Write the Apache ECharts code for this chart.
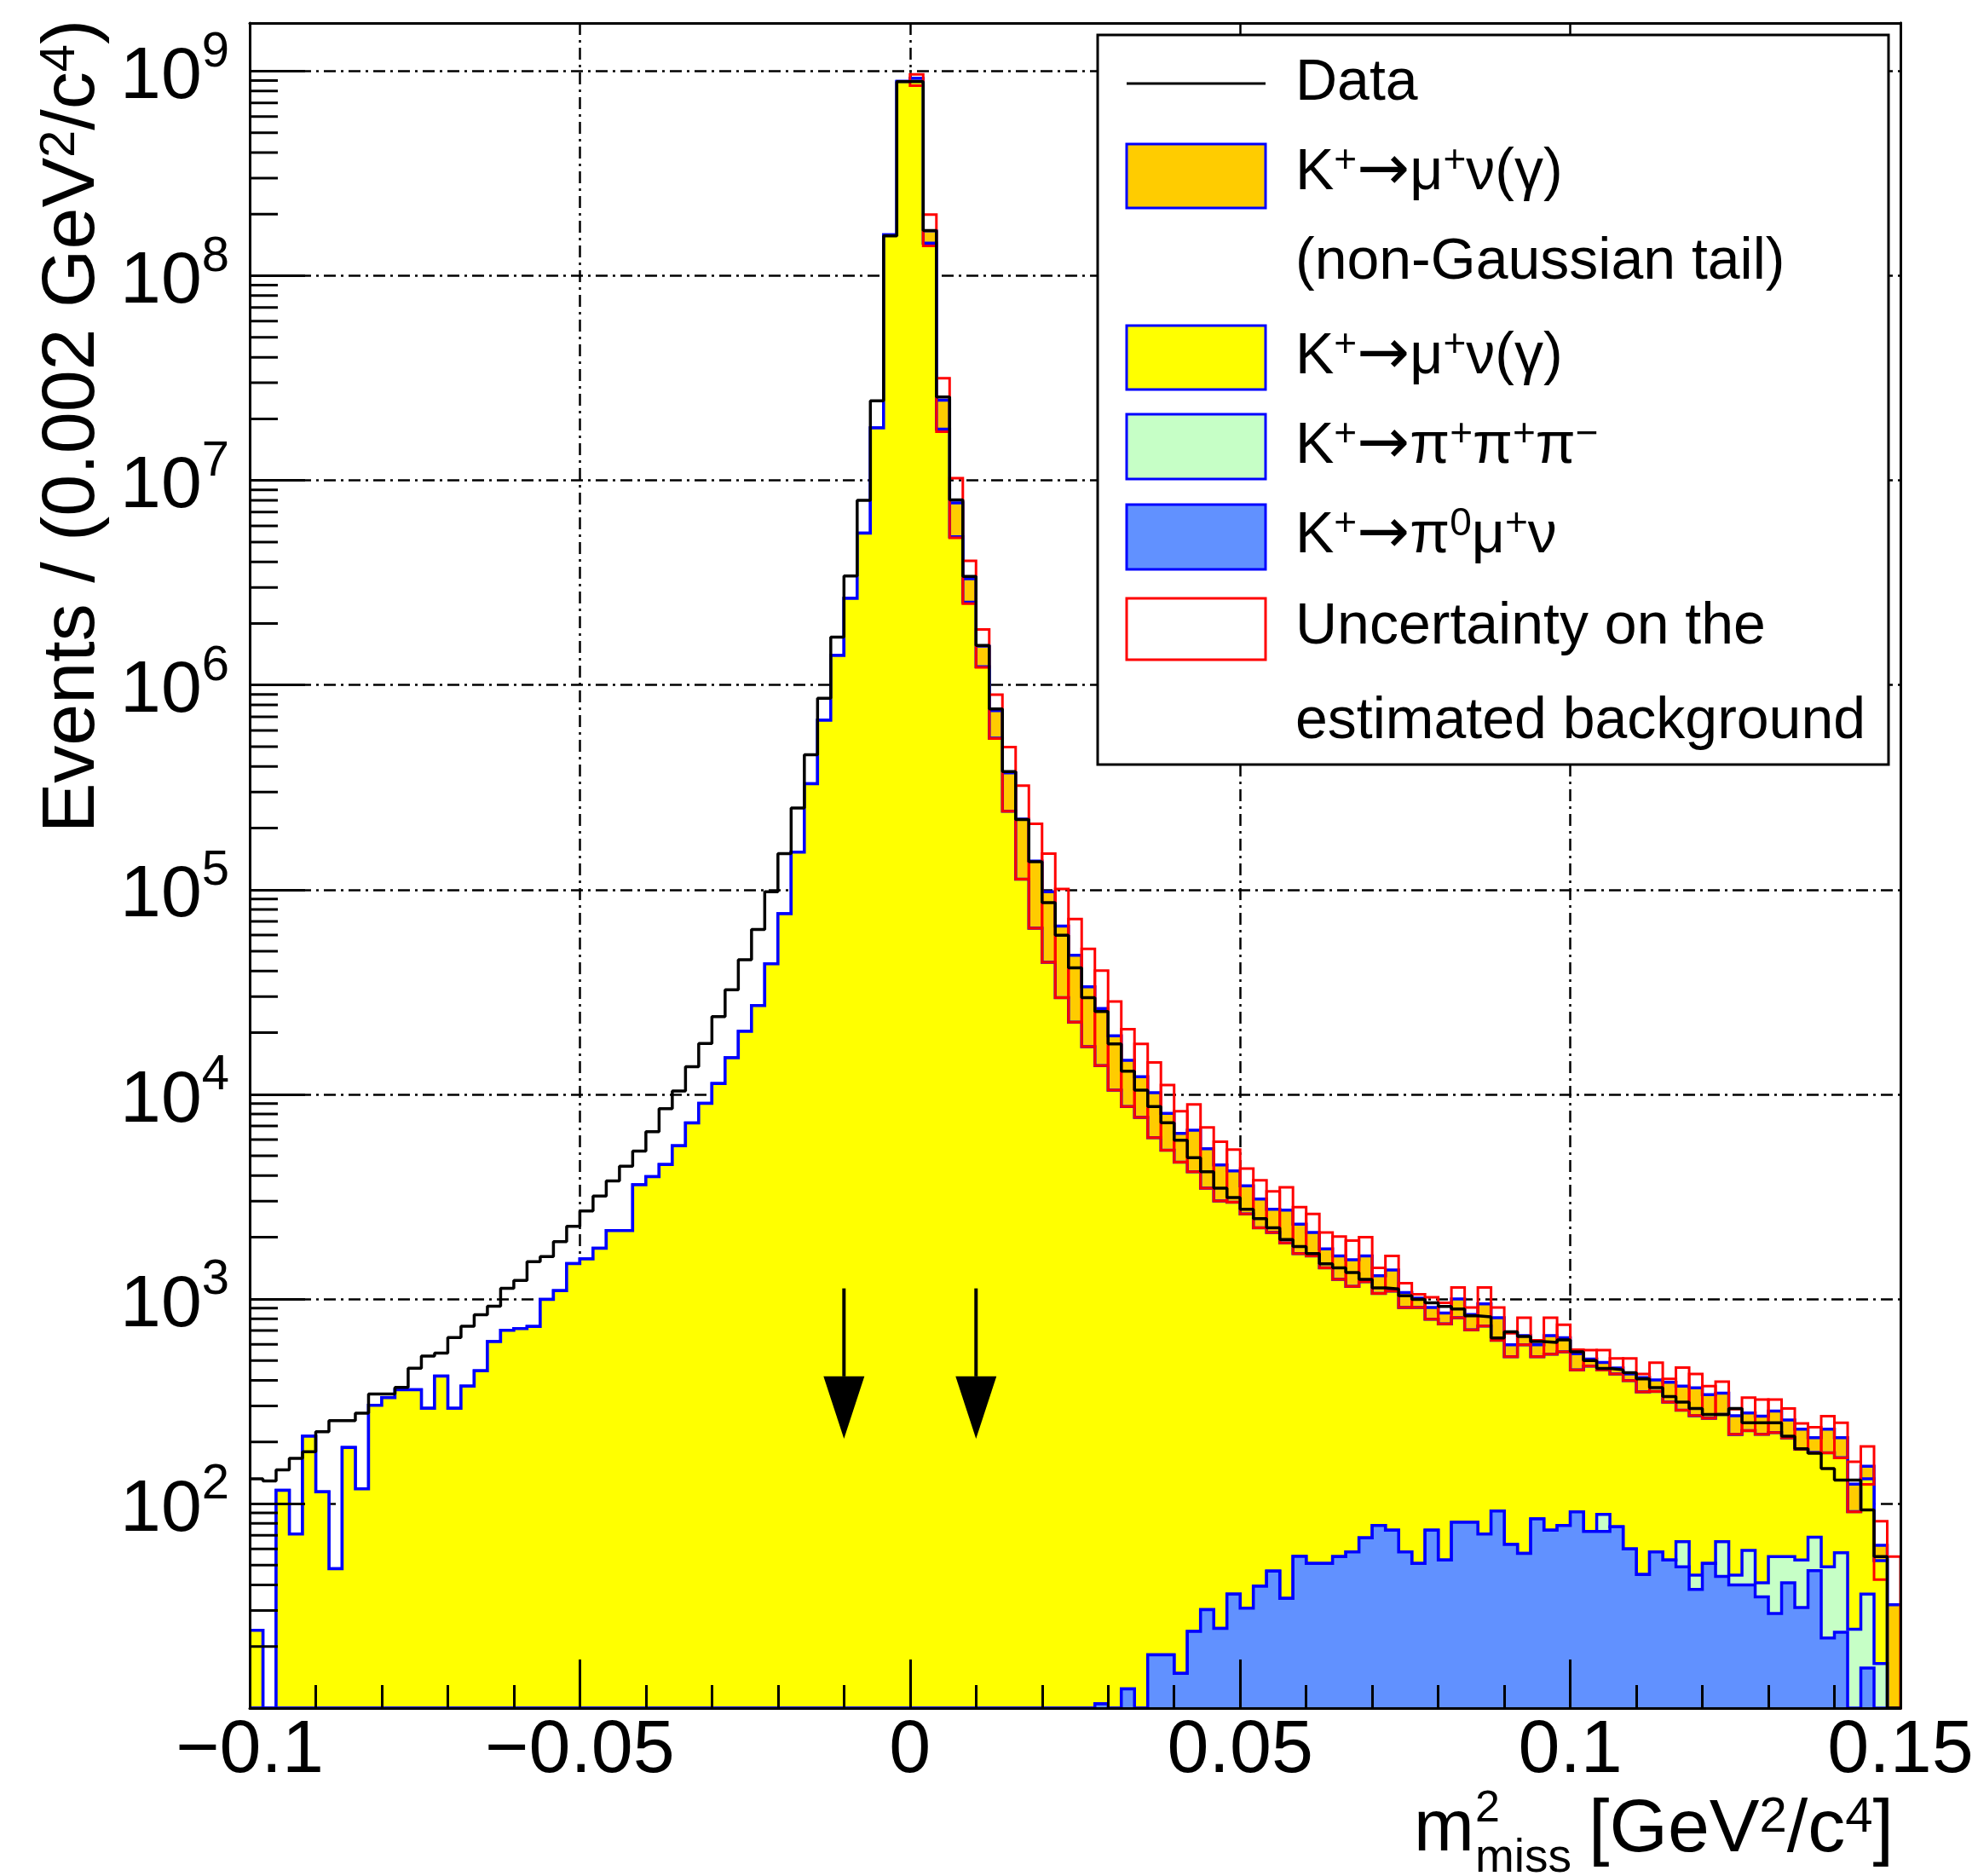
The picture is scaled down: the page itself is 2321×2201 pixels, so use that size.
<!DOCTYPE html>
<html><head><meta charset="utf-8"><title>Missing mass squared</title>
<script src="https://cdn.jsdelivr.net/npm/echarts@6.0.0/dist/echarts.min.js"></script>
<style>html,body{margin:0;padding:0;background:#fff;}#chart{width:2321px;height:2201px;}</style>
</head><body><div id="chart"></div>
<script>
// ---------------- binning / axis ranges ----------------
const X_MIN = -0.1, X_MAX = 0.15, BIN_WIDTH = 0.002, N_BINS = 125;
const Y_MIN = 10, Y_MAX = 1.72e9;

// ---------------- data (events per 0.002 GeV^2/c^4 bin, bins from -0.1 to 0.15) ----------------
const dataCounts = [
  132, 129, 146, 166, 179, 224, 254, 254, 276, 343,
  343, 369, 458, 525, 543, 647, 735, 836, 920, 1125,
  1230, 1520, 1610, 1905, 2265, 2690, 3180, 3775, 4445, 5270,
  6560, 8510, 10380, 13650, 17700, 23930, 32430, 45390, 63830, 97720,
  150000, 250600, 456000, 861000, 1714000, 3410000, 8000000, 24500000, 156700000, 889000000,
  889000000, 166300000, 25600000, 8040000, 3400000, 1563000, 764000, 378000, 220000, 136800,
  86500, 59800, 41500, 29650, 25400, 17620, 12970, 10470, 8710, 7260,
  5960, 4900, 4180, 3475, 3126, 2742, 2466, 2223, 1950, 1800,
  1663, 1483, 1419, 1346, 1245, 1132, 1119, 1035, 993, 957,
  918, 893, 826, 817, 644, 690, 655, 618, 612, 630,
  551, 500, 457, 450, 436, 406, 368, 333, 313, 291,
  272, 272, 291, 248, 248, 248, 213, 185, 176, 148,
  130, 130, 93, 55, 0
];
// K+ -> pi0 mu+ nu (bottom of stack)
const kmu3 = [
  0, 0, 0, 0, 0, 0, 0, 0, 0, 0,
  0, 0, 0, 0, 0, 0, 0, 0, 0, 0,
  0, 0, 0, 0, 0, 0, 0, 0, 0, 0,
  0, 0, 0, 0, 0, 0, 0, 0, 0, 0,
  0, 0, 0, 0, 0, 0, 0, 0, 0, 0,
  0, 0, 0, 0, 0, 0, 0, 0, 0, 0,
  0, 0, 0, 0, 10.5, 0, 12.4, 0, 18.2, 18.2,
  14.8, 23.7, 30.3, 24.5, 36.1, 30.8, 39.4, 46.7, 34.4, 55.1,
  51, 51, 55, 58, 68, 78, 74, 58, 51, 74,
  53, 81, 81, 71, 92, 63, 57, 84, 74, 78,
  91, 73, 73, 77, 60, 45, 58, 53, 49, 38,
  51, 44, 40, 40, 35, 29, 41, 31, 47, 22,
  23.5, 0, 15.7, 0, 0
];
// K+ -> pi+ pi+ pi-
const k3pi = [
  0, 0, 0, 0, 0, 0, 0, 0, 0, 0,
  0, 0, 0, 0, 0, 0, 0, 0, 0, 0,
  0, 0, 0, 0, 0, 0, 0, 0, 0, 0,
  0, 0, 0, 0, 0, 0, 0, 0, 0, 0,
  0, 0, 0, 0, 0, 0, 0, 0, 0, 0,
  0, 0, 0, 0, 0, 0, 0, 0, 0, 0,
  0, 0, 0, 0, 0, 0, 0, 0, 0, 0,
  0, 0, 0, 0, 0, 0, 0, 0, 0, 0,
  0, 0, 0, 0, 0, 0, 0, 0, 0, 0,
  0, 0, 0, 0, 0, 0, 0, 0, 0, 0,
  0, 0, 15.5, 0, 0, 0, 0, 0, 16, 6.6,
  0, 21, 4.6, 19, 6, 26, 14, 22, 21.5, 27,
  34, 24.3, 20.4, 16.5, 0
];
// K+ -> mu+ nu(gamma), Gaussian core
const kmu2 = [
  24, 0, 116, 71, 213, 114, 48, 188, 118, 302,
  329, 360, 360, 292, 419, 292, 375, 445, 619, 702,
  716, 734, 993, 1096, 1486, 1567, 1766, 2158, 2158, 3614,
  3954, 4539, 5598, 7244, 9036, 11270, 15070, 20320, 27160, 43450,
  76210, 152400, 329600, 673000, 1396000, 2650000, 5530000, 18070000, 158500000, 891000000,
  923000000, 144500000, 17800000, 5310000, 2540000, 1230000, 550000, 242000, 112500, 64860,
  44160, 29650, 22490, 17100, 13790, 10470, 8698, 7710, 6122, 5302,
  4645, 4156, 3445, 2988, 2929, 2569, 2184, 2062, 1841, 1608,
  1571, 1368, 1190, 1093, 1145, 986, 1017, 850, 857, 722,
  702, 728, 624, 665, 536, 459, 539, 438, 463, 473,
  359, 396, 362, 352, 339, 306, 295, 260, 221, 224,
  210, 207, 173, 168, 177, 167, 154, 131, 109, 128,
  110, 67, 96, 36, 0
];
// K+ -> mu+ nu(gamma), non-Gaussian tail (top of stack)
const kmu2Tail = [
  0, 0, 0, 0, 0, 0, 0, 0, 0, 0,
  0, 0, 0, 0, 0, 0, 0, 0, 0, 0,
  0, 0, 0, 0, 0, 0, 0, 0, 0, 0,
  0, 0, 0, 0, 0, 0, 0, 0, 0, 0,
  0, 0, 0, 0, 0, 0, 0, 0, 0, 0,
  0, 21500000, 6900000, 2450000, 770000, 320000, 200000, 130000, 108500, 73140,
  53540, 36750, 25260, 16400, 12440, 8850, 5950, 4480, 4040, 2750,
  1770, 2490, 1945, 1507, 1255, 965, 853, 633, 841, 654,
  487, 335, 377, 401, 409, 233, 293, 166, 101, 112,
  98, 189, 134, 210, 181, 74, 66, 74, 125, 95,
  90, 39, 38, 30, 30, 61, 49, 78, 89, 99,
  79, 74, 51, 50, 49, 61, 47, 47, 32, 54,
  42, 33, 20, 10, 32
];
// uncertainty band on the estimated background (upper / lower edge)
const uncUp = [
  null, null, null, null, null, null, null, null, null, null,
  null, null, null, null, null, null, null, null, null, null,
  null, null, null, null, null, null, null, null, null, null,
  null, null, null, null, null, null, null, null, null, null,
  null, null, null, null, null, null, null, null, null, null,
  966000000, 199000000, 31600000, 10260000, 4050000, 1870000, 897000, 497000, 322000, 210000,
  150000, 100700, 71900, 51400, 40180, 28380, 20800, 17620, 14290, 11090,
  8260, 8910, 6890, 5860, 5360, 4335, 3800, 3350, 3510, 2810,
  2600, 2110, 2018, 1928, 2000, 1419, 1622, 1194, 1052, 1019,
  957, 1138, 908, 1138, 908, 679, 809, 628, 809, 748,
  564, 562, 562, 512, 512, 429, 488, 406, 462, 429,
  375, 394, 289, 329, 322, 322, 291, 246, 236, 267,
  248, 160, 190, 82, 55
];
const uncLow = [
  null, null, null, null, null, null, null, null, null, null,
  null, null, null, null, null, null, null, null, null, null,
  null, null, null, null, null, null, null, null, null, null,
  null, null, null, null, null, null, null, null, null, null,
  null, null, null, null, null, null, null, null, null, null,
  850000000, 140000000, 17300000, 5240000, 2500000, 1220000, 548000, 242000, 112500, 64860,
  44160, 29650, 22490, 17100, 13800, 10470, 8710, 7710, 6140, 5320,
  4660, 4180, 3475, 3013, 2965, 2600, 2223, 2109, 1875, 1663,
  1622, 1419, 1245, 1151, 1213, 1064, 1091, 908, 908, 796,
  755, 809, 705, 736, 628, 522, 596, 522, 537, 551,
  450, 469, 450, 429, 399, 351, 353, 313, 286, 269,
  261, 272, 218, 227, 218, 222, 209, 184, 177, 177,
  167, 91, 124, 42.5, 0
];
// signal-region arrows
const arrowX = [-0.01, 0.01];
const arrowTop = [1125, 1125];
const arrowHeadBase = [418, 418];
const arrowTip = [207, 207];

// ---------------- derived geometry ----------------
const FONT = 'Liberation Sans';
const edges = [];
for (let i = 0; i <= N_BINS; i++) edges.push(+(X_MIN + i * BIN_WIDTH).toFixed(4));
function cumulative(layers) { return layers[0].map((_, i) => layers.reduce((s, l) => s + l[i], 0)); }
const cumBlue = cumulative([kmu3]);
const cumGreen = cumulative([kmu3, k3pi]);
const cumYellow = cumulative([kmu3, k3pi, kmu2]);
const cumOrange = cumulative([kmu3, k3pi, kmu2, kmu2Tail]);
const clampY = v => Math.min(Math.max(v, Y_MIN), Y_MAX);

function stepLayer(name, cum, color, z) {
  return {
    name: name, type: 'custom', z: z, silent: true,
    data: [[X_MIN, Y_MIN]],
    renderItem: function (params, api) {
      const top = [];
      for (let i = 0; i < N_BINS; i++) {
        const v = clampY(cum[i]);
        top.push(api.coord([edges[i], v]), api.coord([edges[i + 1], v]));
      }
      const poly = [api.coord([X_MIN, Y_MIN])].concat(top, [api.coord([X_MAX, Y_MIN])]);
      return { type: 'group', children: [
        { type: 'polygon', shape: { points: poly }, style: { fill: color, stroke: 'none' } },
        { type: 'polyline', shape: { points: top }, style: { fill: 'none', stroke: '#0000ff', lineWidth: 3.5 } }
      ] };
    }
  };
}

const uncData = [];
for (let i = 0; i < N_BINS; i++) {
  if (uncUp[i] != null) uncData.push([edges[i], edges[i + 1], clampY(uncLow[i]), clampY(uncUp[i])]);
}
const dataLine = [];
for (let i = 0; i < N_BINS; i++) dataLine.push([edges[i], clampY(dataCounts[i])]);
dataLine.push([X_MAX, clampY(dataCounts[N_BINS - 1])]);

const yMinorTicks = [];
for (let e = 1; e <= 9; e++) for (let k = 2; k <= 9; k++) {
  const v = k * Math.pow(10, e);
  if (v < Y_MAX) yMinorTicks.push([X_MIN, v]);
}

function fmtX(v) {
  const r = Math.round(v * 1000) / 1000;
  if (r === 0) return '0';
  return (r < 0 ? '\u2212' : '') + String(Math.abs(r));
}
function fmtY(v) {
  const e = Math.log10(v), r = Math.round(e);
  if (Math.abs(e - r) > 0.01 || r < 2) return '';
  return '{b|10}{s|' + r + '}';
}
const gridLine = { color: '#000', width: 2.5, type: [14, 6, 3, 6] };
const frame = { color: '#000', width: 3 };
const supStyle = fs => ({ fontSize: fs, fontFamily: FONT, fill: '#000', verticalAlign: 'top' });

function legendText(y, text) {
  return { type: 'text', x: 1520, y: y, z: 102, style: {
    text: text, fontSize: 68, fontFamily: FONT, fill: '#000', align: 'left', verticalAlign: 'middle',
    rich: { s: supStyle(46), a: { fontSize: 74, fontFamily: 'DejaVu Sans', fill: '#000' } } } };
}
function legendBox(y, h, fill, stroke) {
  return { type: 'rect', z: 101, shape: { x: 1322, y: y, width: 163, height: h },
    style: { fill: fill, stroke: stroke, lineWidth: 3 } };
}

const option = {
  animation: false,
  backgroundColor: '#ffffff',
  grid: { left: 293, right: 91, top: 27, bottom: 197, containLabel: false },
  xAxis: [
    { type: 'value', min: X_MIN, max: X_MAX, interval: 0.05, position: 'bottom', z: 10,
      axisLine: { show: true, onZero: false, lineStyle: frame },
      axisTick: { show: true, inside: true, length: 57, lineStyle: { color: '#000', width: 3 } },
      minorTick: { show: true, splitNumber: 5, length: 27, lineStyle: { color: '#000', width: 3 } },
      splitLine: { show: false }, minorSplitLine: { show: false },
      axisLabel: { show: true, margin: 7, fontSize: 88, fontFamily: FONT, color: '#000',
        showMinLabel: true, showMaxLabel: true, formatter: fmtX } },
    { type: 'value', min: X_MIN, max: X_MAX, interval: 0.05, position: 'top', z: 0,
      axisLine: { show: true, onZero: false, lineStyle: frame },
      axisTick: { show: false }, axisLabel: { show: false },
      splitLine: { show: true, lineStyle: gridLine } }
  ],
  yAxis: [
    { type: 'log', logBase: 10, min: Y_MIN, max: Y_MAX, splitNumber: 8, position: 'left', z: 10,
      axisLine: { show: true, onZero: false, lineStyle: frame },
      axisTick: { show: true, inside: true, length: 65, lineStyle: { color: '#000', width: 3 } },
      splitLine: { show: false },
      axisLabel: { show: true, margin: 24, formatter: fmtY, color: '#000',
        rich: { b: { fontSize: 86, fontFamily: FONT, color: '#000', padding: [16, 0, 0, 0] },
                s: { fontSize: 58, fontFamily: FONT, color: '#000', verticalAlign: 'top' } } } },
    { type: 'log', logBase: 10, min: Y_MIN, max: Y_MAX, splitNumber: 8, position: 'right', z: 0,
      axisLine: { show: true, onZero: false, lineStyle: frame },
      axisTick: { show: false }, axisLabel: { show: false },
      splitLine: { show: true, lineStyle: gridLine } },
    { type: 'log', logBase: 10, min: Y_MIN, max: Y_MAX, splitNumber: 8, position: 'right', z: 10,
      axisLine: { show: true, onZero: false, lineStyle: frame },
      axisTick: { show: false }, axisLabel: { show: false }, splitLine: { show: false } }
  ],
  series: [
    stepLayer('K+→μ+ν(γ) non-Gaussian tail', cumOrange, '#ffcc00', 2),
    stepLayer('K+→μ+ν(γ)', cumYellow, '#ffff00', 2),
    stepLayer('K+→π+π+π−', cumGreen, '#c6ffc6', 2),
    stepLayer('K+→π0μ+ν', cumBlue, '#6191ff', 2),
    { name: 'Uncertainty', type: 'custom', z: 3, silent: true, data: uncData,
      encode: { x: [0, 1], y: [2, 3] },
      renderItem: function (params, api) {
        const a = api.coord([api.value(0), api.value(2)]);
        const b = api.coord([api.value(1), api.value(3)]);
        return { type: 'rect', shape: { x: a[0], y: b[1], width: b[0] - a[0], height: a[1] - b[1] },
          style: { fill: 'none', stroke: '#ff0000', lineWidth: 3 } };
      } },
    { name: 'Data', type: 'line', step: 'end', data: dataLine, symbol: 'none', showSymbol: false,
      lineStyle: { color: '#000', width: 3.5 }, z: 4, silent: true, clip: true },
    { name: 'Arrows', type: 'custom', z: 5, silent: true,
      data: arrowX.map((x, i) => [x, arrowTop[i], arrowHeadBase[i], arrowTip[i]]),
      encode: { x: 0, y: [1, 2, 3] },
      renderItem: function (params, api) {
        const x = api.value(0);
        const p0 = api.coord([x, api.value(1)]);
        const p1 = api.coord([x, api.value(2)]);
        const p2 = api.coord([x, api.value(3)]);
        return { type: 'group', children: [
          { type: 'line', shape: { x1: p0[0], y1: p0[1], x2: p1[0], y2: p1[1] }, style: { stroke: '#000', lineWidth: 4 } },
          { type: 'polygon', shape: { points: [[p1[0] - 24, p1[1]], [p1[0] + 24, p1[1]], [p2[0], p2[1]]] }, style: { fill: '#000' } }
        ] };
      } },
    { name: 'yMinorTicks', type: 'custom', z: 10, silent: true, data: yMinorTicks,
      encode: { x: 0, y: 1 },
      renderItem: function (params, api) {
        const q = api.coord([api.value(0), api.value(1)]);
        return { type: 'line', shape: { x1: q[0], y1: q[1], x2: q[0] + 33, y2: q[1] },
          style: { stroke: '#000', lineWidth: 3 } };
      } }
  ],
  graphic: [
    { type: 'text', x: 86, y: 500, rotation: Math.PI / 2, z: 100, style: {
        text: 'Events / (0.002 GeV{s|2}/c{s|4})', fontSize: 88, fontFamily: FONT, fill: '#000',
        align: 'center', verticalAlign: 'middle', rich: { s: supStyle(58) } } },
    { type: 'text', x: 1659, y: 2148, z: 100, style: { text: 'm', fontSize: 85, fontFamily: FONT, fill: '#000', align: 'left', verticalAlign: 'middle' } },
    { type: 'text', x: 1731, y: 2123, z: 100, style: { text: '2', fontSize: 52, fontFamily: FONT, fill: '#000', align: 'left', verticalAlign: 'middle' } },
    { type: 'text', x: 1731, y: 2181, z: 100, style: { text: 'miss', fontSize: 55, fontFamily: FONT, fill: '#000', align: 'left', verticalAlign: 'middle' } },
    { type: 'text', x: 1864, y: 2148, z: 100, style: { text: '[GeV{s|2}/c{s|4}]', fontSize: 88, fontFamily: FONT, fill: '#000',
        align: 'left', verticalAlign: 'middle', rich: { s: supStyle(58) } } },
    // legend
    { type: 'rect', z: 100, shape: { x: 1288, y: 41, width: 928, height: 856 }, style: { fill: '#fff', stroke: '#000', lineWidth: 3 } },
    { type: 'line', z: 101, shape: { x1: 1322, y1: 98, x2: 1485, y2: 98 }, style: { stroke: '#000', lineWidth: 3 } },
    legendBox(169, 75, '#ffcc00', '#0000ff'),
    legendBox(382, 75, '#ffff00', '#0000ff'),
    legendBox(486, 76, '#c6ffc6', '#0000ff'),
    legendBox(592, 76, '#6191ff', '#0000ff'),
    legendBox(702, 72, '#ffffff', '#ff0000'),
    legendText(98, 'Data'),
    legendText(203, 'K{s|+}{a|\u2192}\u03bc{s|+}\u03bd(\u03b3)'),
    legendText(308, '(non-Gaussian tail)'),
    legendText(419, 'K{s|+}{a|\u2192}\u03bc{s|+}\u03bd(\u03b3)'),
    legendText(524, 'K{s|+}{a|\u2192}\u03c0{s|+}\u03c0{s|+}\u03c0{s|\u2212}'),
    legendText(629, 'K{s|+}{a|\u2192}\u03c0{s|0}\u03bc{s|+}\u03bd'),
    legendText(736, 'Uncertainty on the'),
    legendText(847, 'estimated background')
  ]
};
const chart = echarts.init(document.getElementById('chart'), null, { renderer: 'canvas' });
chart.setOption(option);
</script>
</body></html>
